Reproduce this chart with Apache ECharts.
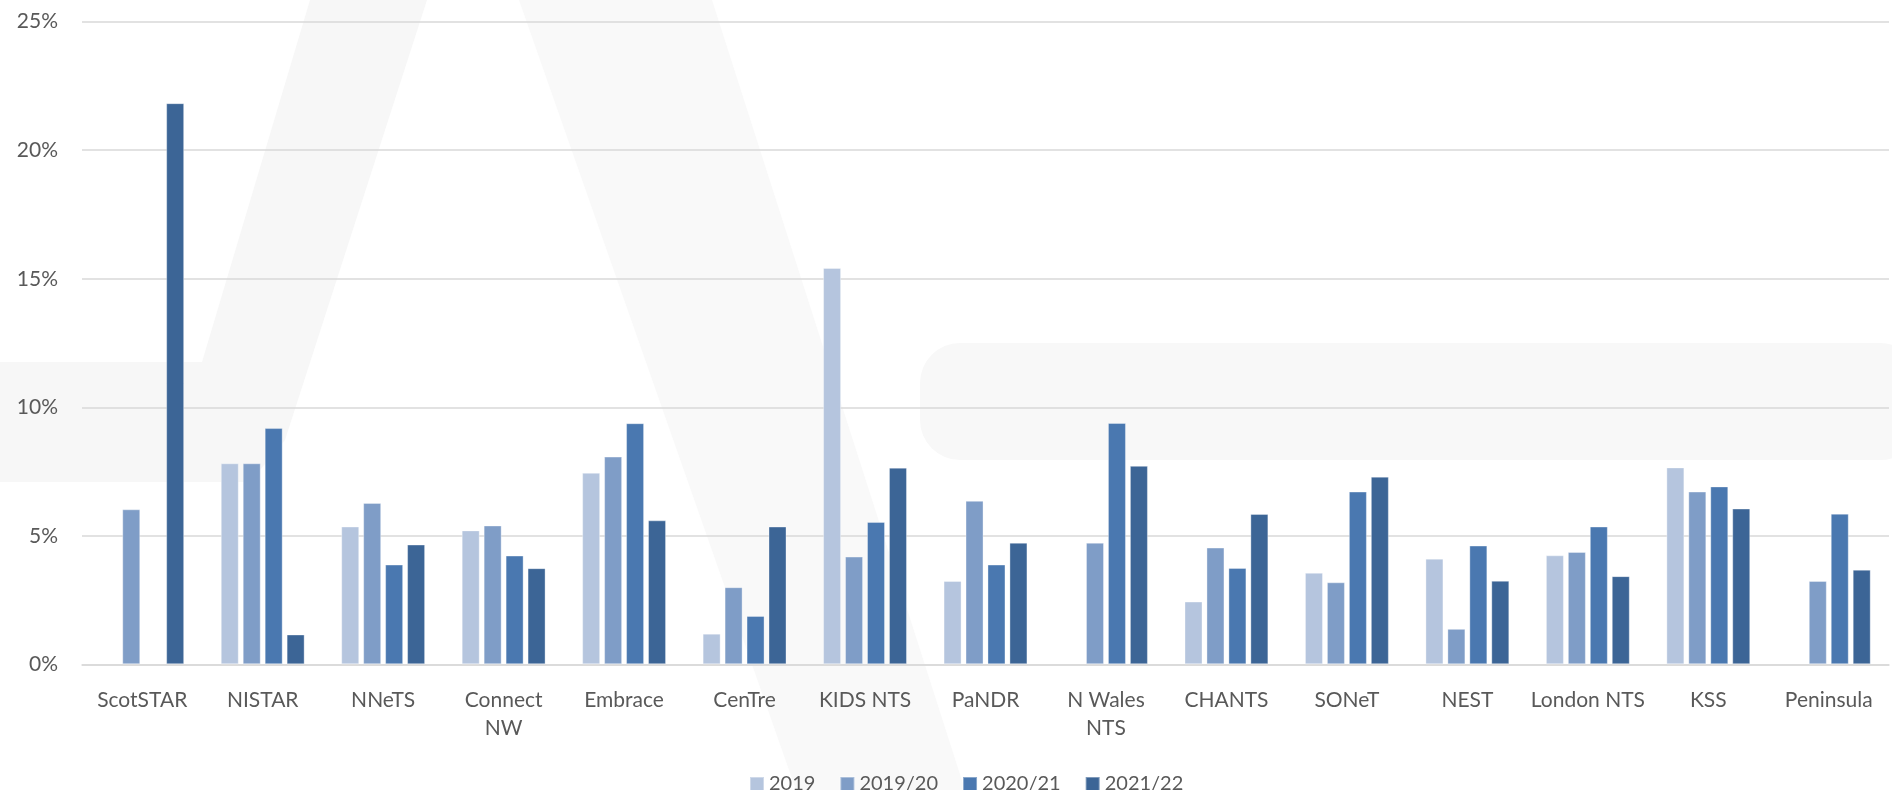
<!DOCTYPE html>
<html>
<head>
<meta charset="utf-8">
<script src="https://cdn.jsdelivr.net/npm/echarts@6/dist/echarts.min.js"></script>
<style>
  html, body { margin: 0; padding: 0; background: #ffffff; }
  #chart { width: 1892px; height: 790px; }
</style>
</head>
<body>
<div id="chart"></div>
<script>
// Categories (networks)
const categories = ["ScotSTAR", "NISTAR", "NNeTS", "Connect NW", "Embrace", "CenTre", "KIDS NTS", "PaNDR", "N Wales NTS", "CHANTS", "SONeT", "NEST", "London NTS", "KSS", "Peninsula"];
// Tick labels as drawn (with wraps)
const tickLabels = ["ScotSTAR", "NISTAR", "NNeTS", "Connect\nNW", "Embrace", "CenTre", "KIDS NTS", "PaNDR", "N Wales\nNTS", "CHANTS", "SONeT", "NEST", "London NTS", "KSS", "Peninsula"];
// Series names
const seriesNames = ["2019", "2019/20", "2020/21", "2021/22"];
// Values in percent (null = no bar)
const v2019   = [null, 7.82, 5.36, 5.21, 7.45, 1.19, 15.42, 3.24, null, 2.44, 3.56, 4.11, 4.24, 7.66, null];
const v201920 = [6.03, 7.82, 6.28, 5.40, 8.08, 3.00, 4.19, 6.36, 4.73, 4.54, 3.19, 1.38, 4.37, 6.72, 3.24];
const v202021 = [null, 9.19, 3.88, 4.23, 9.38, 1.88, 5.54, 3.88, 9.39, 3.75, 6.72, 4.62, 5.36, 6.92, 5.86];
const v202122 = [21.83, 1.16, 4.66, 3.74, 5.60, 5.36, 7.65, 4.73, 7.72, 5.85, 7.30, 3.25, 3.43, 6.06, 3.68];
// Y-axis ticks
const yTicks = [0, 5, 10, 15, 20, 25];

const seriesData = [v2019, v201920, v202021, v202122];
const colors = ["#b5c5de", "#7f9dc7", "#4a78b0", "#3c6596"];

const chart = echarts.init(document.getElementById('chart'), null, { renderer: 'canvas' });
const labelMap = {};
categories.forEach((c, i) => { labelMap[c] = tickLabels[i]; });

const wm = '#f7f7f7';
chart.setOption({
  animation: false,
  backgroundColor: '#ffffff',
  color: colors,
  textStyle: { fontFamily: 'Lato, "Open Sans", sans-serif' },
  graphic: [
    { type: 'polygon', z: -10, silent: true,
      shape: { points: [[310, 0], [427, 0], [285, 440], [250, 482], [0, 482], [0, 362], [202, 362]] },
      style: { fill: wm } },
    { type: 'polygon', z: -10, silent: true,
      shape: { points: [[519, 0], [712, 0], [965, 790], [796, 790]] },
      style: { fill: '#f9f9f9' } },
    { type: 'rect', z: -10, silent: true,
      shape: { x: 920, y: 343, width: 1000, height: 117, r: 40 },
      style: { fill: '#f8f8f8' } }
  ],
  grid: { left: 82, right: 3, top: 21.7, bottom: 125.7, containLabel: false },
  legend: {
    data: seriesNames,
    left: 744,
    top: 769,
    itemWidth: 14,
    itemHeight: 14,
    itemGap: 24,
    icon: 'rect',
    textStyle: { fontSize: 20, color: '#595959', fontFamily: 'Lato, sans-serif' }
  },
  xAxis: {
    type: 'category',
    data: categories,
    axisLine: { show: true, lineStyle: { color: '#d9d9d9', width: 1.5 } },
    axisTick: { show: false },
    axisLabel: {
      interval: 0,
      margin: 22,
      color: '#595959',
      fontSize: 21,
      lineHeight: 28,
      fontFamily: 'Lato, sans-serif',
      formatter: (v) => labelMap[v]
    }
  },
  yAxis: {
    type: 'value',
    min: yTicks[0],
    max: yTicks[yTicks.length - 1],
    interval: yTicks[1] - yTicks[0],
    axisLine: { show: false },
    axisTick: { show: false },
    splitLine: { lineStyle: { color: '#d9d9d9', width: 1.5 } },
    axisLabel: {
      margin: 24,
      color: '#595959',
      fontSize: 21,
      fontFamily: 'Lato, sans-serif',
      formatter: '{value}%'
    }
  },
  series: seriesNames.map((n, i) => ({
    name: n,
    type: 'bar',
    data: seriesData[i],
    barWidth: 18,
    barGap: '22%',
    itemStyle: { color: colors[i], borderColor: 'rgba(255,255,255,0.35)', borderWidth: 1 }
  }))
});
</script>
</body>
</html>
